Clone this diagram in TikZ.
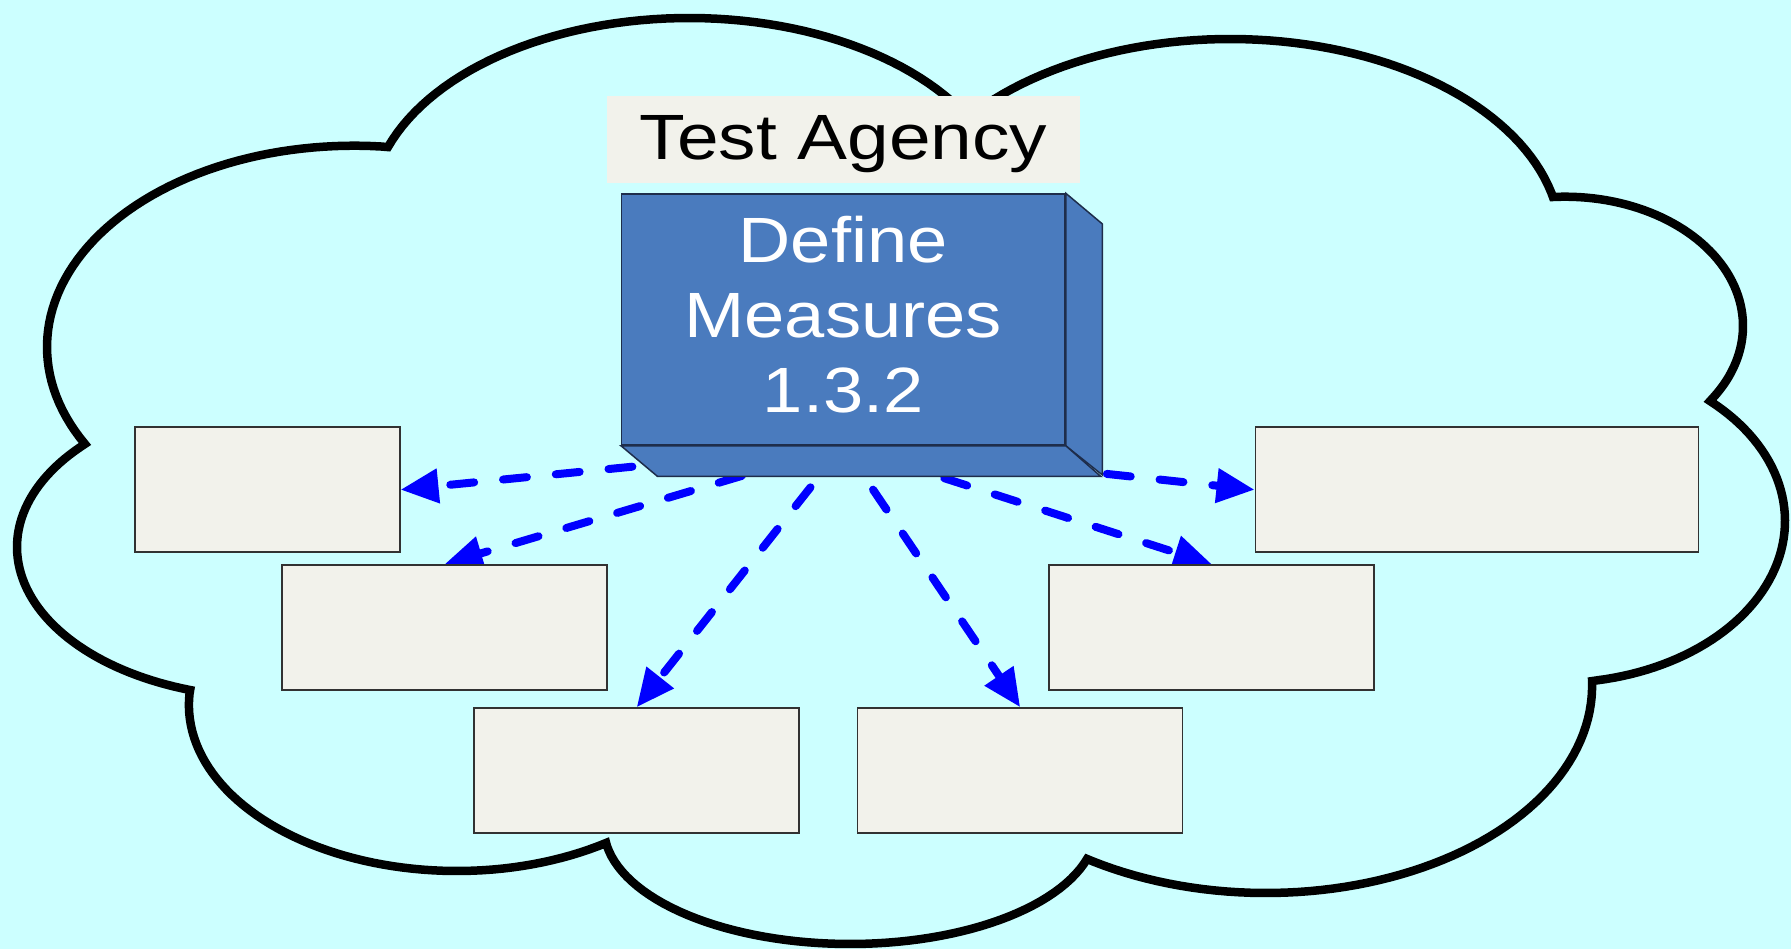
\documentclass[tikz,border=0pt]{standalone}
\usepackage{fontspec}
\setmainfont{Liberation Sans}
\usetikzlibrary{arrows.meta}
\pgfdeclarelayer{back}
\pgfsetlayers{back,main}
\definecolor{bgcyan}{RGB}{204,255,255}
\definecolor{boxfill}{RGB}{242,242,235}
\definecolor{boxline}{RGB}{50,50,50}
\definecolor{bluefill}{RGB}{74,123,190}
\definecolor{blueline}{RGB}{30,45,75}
\definecolor{arrowblue}{RGB}{0,0,255}
\begin{document}
\begin{tikzpicture}[x=1pt,y=-1pt,
  cloudline/.style={line width=8.5pt, draw=black, line join=miter, miter limit=4},
  emptybox/.style={draw=boxline, line width=1.5pt, fill=boxfill, rectangle, inner sep=0pt, minimum height=125pt},
  agencybox/.style={fill=boxfill, rectangle, inner sep=0pt, minimum width=473pt, minimum height=87pt},
  face/.style={fill=bluefill, draw=blueline, line width=1.5pt, line join=miter},
  flow/.style={draw=arrowblue, line width=8pt, line cap=round, dash pattern=on 24pt off 29pt, -{Triangle[length=38pt,width=33pt]}},
]
\useasboundingbox (0,0) rectangle (1791,949);

% Test Agency label box
\node[agencybox] (agency) at (843.5,139.5) {};
\node[font=\fontsize{64}{75}\selectfont, anchor=base, inner sep=0pt, xscale=1.17] (agencytext) at (843.5,159.3) {Test Agency};

% 3D box
\node[face, rectangle, inner sep=0pt, minimum width=443.3pt, minimum height=251pt] (dm) at (843.35,319.5) {};
\draw[face] (dm.north east) -- ++(36.6,30.7) -- ++(0,251) -- (dm.south east) -- cycle;
\draw[face] (dm.south west) -- ++(36.6,30.7) -- ++(443.3,0) -- (dm.south east) -- cycle;
\node[font=\fontsize{64}{75}\selectfont, text=white, align=center, inner sep=0pt, xscale=1.13] (dmtext) at (843.3,315) {Define\\Measures\\1.3.2};
\coordinate (src) at (dm.south);

% empty boxes
\node[emptybox, minimum width=264.8pt] (b1) at (267.4,489.7) {};
\node[emptybox, minimum width=325pt] (b2) at (444.6,627.4) {};
\node[emptybox, minimum width=325pt] (b3) at (636.7,770.5) {};
\node[emptybox, minimum width=325pt] (b4) at (1020.2,770.5) {};
\node[emptybox, minimum width=325pt] (b5) at (1211.7,627.4) {};
\node[emptybox, minimum width=443pt] (b6) at (1476.8,489.7) {};

\begin{pgfonlayer}{back}
\fill[bgcyan] (0,0) rectangle (1791,949);
\draw[cloudline]
  plot[domain=151.2:275, samples=60, variable=\t] ({353.9+306.9*cos(\t)},{347+201.3*sin(\t)})
  -- plot[domain=-161:-25, samples=60, variable=\t] ({689+318.4*cos(\t)},{209.4+191.4*sin(\t)})
  -- plot[domain=-142:-13.6, samples=60, variable=\t] ({1230+330.7*cos(\t)},{240.3+201.3*sin(\t)})
  -- plot[domain=-93.9:33.8, samples=60, variable=\t] ({1565+178*cos(\t)},{326+129.3*sin(\t)})
  -- plot[domain=-47.8:79.8, samples=60, variable=\t] ({1556.7+228.3*cos(\t)},{521+161.9*sin(\t)})
  -- plot[domain=-1.3:122, samples=60, variable=\t] ({1266+326.1*cos(\t)},{685.8+207.2*sin(\t)})
  -- plot[domain=15.7:170.8, samples=60, variable=\t] ({850+246.2*cos(\t)},{827.4+116.6*sin(\t)})
  -- plot[domain=56.2:183.8, samples=60, variable=\t] ({457+268.1*cos(\t)},{705+166*sin(\t)})
  -- plot[domain=108:221.8, samples=60, variable=\t] ({267.6+250.6*cos(\t)},{547+150.4*sin(\t)})
  -- cycle;
\draw[flow] (src) -- (b1.east);
\draw[flow] (src) -- (b2.north);
\draw[flow] (src) -- (b3.north);
\draw[flow] (src) -- (b4.north);
\draw[flow] (src) -- (b5.north);
\draw[flow] (src) -- (b6.west);
\end{pgfonlayer}
\end{tikzpicture}
\end{document}
